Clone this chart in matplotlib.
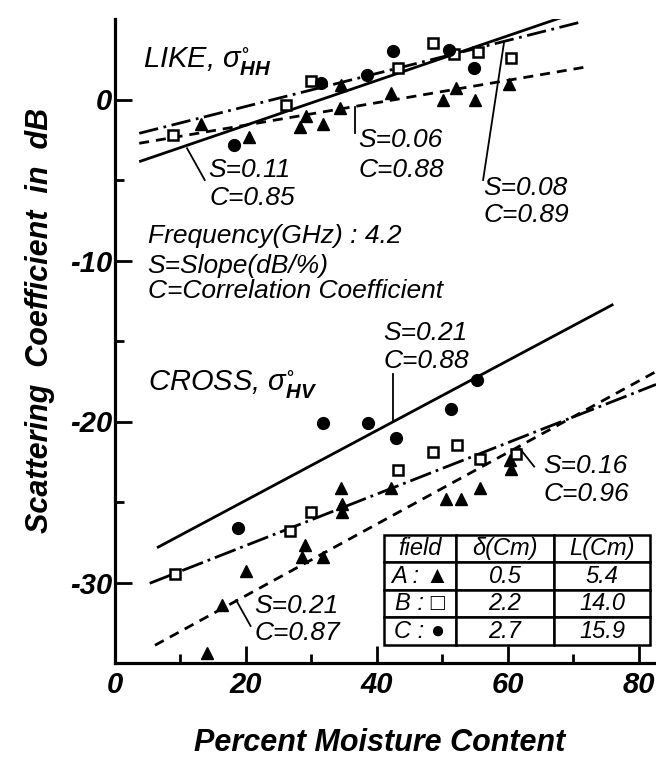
import matplotlib
matplotlib.use('Agg')
import matplotlib.pyplot as plt

plt.rcParams['font.family'] = ['Liberation Sans', 'DejaVu Sans']
plt.rcParams['mathtext.fontset'] = 'custom'
plt.rcParams['mathtext.it'] = 'Liberation Sans:italic'
plt.rcParams['mathtext.rm'] = 'Liberation Sans:italic'
plt.rcParams['mathtext.bf'] = 'Liberation Sans:bold:italic'
plt.rcParams['mathtext.fallback'] = 'stixsans'

# ---------------- data ----------------
# LIKE (sigma HH)
like_A_x = [13.1, 20.4, 28.3, 29.1, 31.7, 34.3, 34.5, 42.1, 50.1, 52.1, 55.0, 60.2]
like_A_y = [-1.5, -2.3, -1.7, -1.0, -1.5, -0.55, 0.9, 0.4, 0.0, 0.7, 0.0, 0.95]
like_B_x = [8.8, 26.1, 29.9, 43.2, 48.6, 51.8, 55.4, 60.5]
like_B_y = [-2.2, -0.35, 1.15, 1.95, 3.5, 2.85, 2.95, 2.55]
like_C_x = [18.2, 31.5, 38.4, 42.5, 51.0, 54.8]
like_C_y = [-2.85, 1.0, 1.5, 3.0, 3.1, 1.95]

# CROSS (sigma HV)
cross_A_x = [14.1, 16.4, 20.0, 29.0, 28.5, 31.8, 34.5, 34.7, 34.7, 42.2, 50.6, 52.9, 55.7, 60.3, 60.4]
cross_A_y = [-34.4, -31.4, -29.3, -27.7, -28.4, -28.4, -24.15, -25.1, -25.6, -24.15, -24.8, -24.8, -24.15, -22.4, -22.95]
cross_B_x = [9.1, 26.7, 29.9, 43.2, 48.6, 52.2, 55.7, 61.2]
cross_B_y = [-29.5, -26.8, -25.6, -23.0, -21.9, -21.45, -22.3, -22.0]
cross_C_x = [18.8, 31.8, 38.6, 42.9, 51.3, 55.2]
cross_C_y = [-26.6, -20.1, -20.1, -21.05, -19.25, -17.45]

# regression lines (start/end)
like_fit_A = ([3.7, 72.2], [-2.72, 2.04])
like_fit_B = ([3.7, 71.3], [-2.10, 4.83])
like_fit_C = ([3.7, 70.3], [-3.86, 5.39])
cross_fit_A = ([6.1, 82.6], [-33.9, -16.9])
cross_fit_B = ([5.3, 82.6], [-30.05, -17.7])
cross_fit_C = ([6.6, 75.9], [-27.8, -12.76])

x_major = [0, 20, 40, 60, 80]
x_major_labels = ['0', '20', '40', '60', '80']
x_minor = [10, 30, 50, 70]
y_major = [-30, -20, -10, 0]
y_major_labels = ['-30', '-20', '-10', '0']
y_minor = [-25, -15, -5]

table_header = ['field', 'δ(Cm)', 'L(Cm)']
table_rows = [['A : ▲', '0.5', '5.4'],
              ['B : □', '2.2', '14.0'],
              ['C : ●', '2.7', '15.9']]

# ---------------- figure ----------------
fig = plt.figure(figsize=(6.56, 7.57), dpi=100)
ax = fig.add_axes([115 / 656, 1 - 663 / 757, 541 / 656, (663 - 19) / 757])
ax.set_xlim(0, 82.6)
ax.set_ylim(-35, 5.0)

for s in ['top', 'right']:
    ax.spines[s].set_visible(False)
for s in ['left', 'bottom']:
    ax.spines[s].set_linewidth(2.3)

ax.set_xticks(x_major)
ax.set_xticklabels(x_major_labels)
ax.set_xticks(x_minor, minor=True)
ax.set_yticks(y_major)
ax.set_yticklabels(y_major_labels)
ax.set_yticks(y_minor, minor=True)
ax.tick_params(which='major', direction='in', length=12, width=2)
ax.tick_params(which='minor', direction='in', length=6.5, width=2)
ax.tick_params(axis='x', which='major', pad=6)
ax.tick_params(axis='y', which='major', pad=2)
for lab in ax.get_xticklabels() + ax.get_yticklabels():
    lab.set_fontsize(21)
    lab.set_fontstyle('italic')
    lab.set_fontweight('bold')

lw = 2.0
# lines
ax.plot(*like_fit_C, color='k', lw=lw, solid_capstyle='butt')
ax.plot(*like_fit_B, color='k', lw=lw, dashes=(7, 2, 1, 2))
ax.plot(*like_fit_A, color='k', lw=lw, dashes=(3.6, 2.5))
ax.plot(*cross_fit_C, color='k', lw=lw)
ax.plot(*cross_fit_B, color='k', lw=lw, dashes=(8, 1.8, 1, 1.8))
ax.plot(*cross_fit_A, color='k', lw=lw, dashes=(3.6, 2.5))

# markers
for xs, ys in [(like_A_x, like_A_y), (cross_A_x, cross_A_y)]:
    ax.plot(xs, ys, ls='none', marker='^', ms=8.5, color='k', zorder=4)
for xs, ys in [(like_B_x, like_B_y), (cross_B_x, cross_B_y)]:
    ax.plot(xs, ys, ls='none', marker='s', ms=6.5, mfc='white', mec='k', mew=1.8, zorder=4)
for xs, ys in [(like_C_x, like_C_y), (cross_C_x, cross_C_y)]:
    ax.plot(xs, ys, ls='none', marker='o', ms=8.5, color='k', zorder=4)

# pointer lines
plw = 1.3
ax.plot([11.0, 13.7], [-3.03, -5.0], color='k', lw=plw)
ax.plot([36.6, 36.6], [-0.45, -2.1], color='k', lw=plw)
ax.plot([56.2, 59.4], [-5.0, 3.55], color='k', lw=plw)
ax.plot([42.5, 42.5], [-17.05, -20.0], color='k', lw=plw)
ax.plot([61.8, 64.0], [-21.67, -22.8], color='k', lw=plw)
ax.plot([18.5, 20.7], [-31.1, -32.7], color='k', lw=plw)

# annotations
afs = 19
tkw = dict(fontsize=afs, fontstyle='italic', ha='left', va='baseline')
ax.text(4.2, 2.04, r'LIKE, $\sigma^{\circ}_{\mathbf{HH}}$', fontsize=21, fontstyle='italic',
        ha='left', va='baseline')
ax.text(5.0, -18.04, r'CROSS, $\sigma^{\circ}_{\mathbf{HV}}$', fontsize=21, fontstyle='italic',
        ha='left', va='baseline')
ax.text(14.2, -4.8, 'S=0.11', **tkw)
ax.text(14.5, -6.55, 'C=0.85', **tkw)
ax.text(37.2, -2.93, 'S=0.06', **tkw)
ax.text(37.2, -4.8, 'C=0.88', **tkw)
ax.text(56.2, -5.93, 'S=0.08', **tkw)
ax.text(56.2, -7.59, 'C=0.89', **tkw)
ax.text(5.0, -8.93, 'Frequency(GHz) : 4.2', **tkw)
ax.text(5.0, -10.78, 'S=Slope(dB/%)', **tkw)
ax.text(5.0, -12.33, 'C=Correlation Coefficient', **tkw)
ax.text(41.0, -14.94, 'S=0.21', **tkw)
ax.text(41.0, -16.68, 'C=0.88', **tkw)
ax.text(65.4, -23.2, 'S=0.16', **tkw)
ax.text(65.4, -24.94, 'C=0.96', **tkw)
ax.text(21.3, -31.9, 'S=0.21', **tkw)
ax.text(21.3, -33.57, 'C=0.87', **tkw)

# table
tbl = ax.table(cellText=table_rows, colLabels=table_header,
               colWidths=[0.271, 0.367, 0.362], cellLoc='center',
               bbox=[0.4967, 0.028, 0.4931, 0.1708])
tbl.auto_set_font_size(False)
for (r, c), cell in tbl.get_celld().items():
    cell.set_linewidth(1.8)
    cell.set_edgecolor('k')
    cell.set_facecolor('white')
    cell.get_text().set_fontsize(17)
    cell.get_text().set_fontstyle('italic')
tbl.set_zorder(5)

# axis labels
fig.text(380 / 656, 1 - 751 / 757, 'Percent Moisture Content', fontsize=22,
         fontstyle='italic', fontweight='bold', ha='center', va='baseline')
fig.text(40 / 656, 1 - 320 / 757, 'Scattering  Coefficient  in  dB', fontsize=22,
         fontstyle='italic', fontweight='bold', ha='center', va='center', rotation=90)

fig.savefig('out.png', dpi=100)
